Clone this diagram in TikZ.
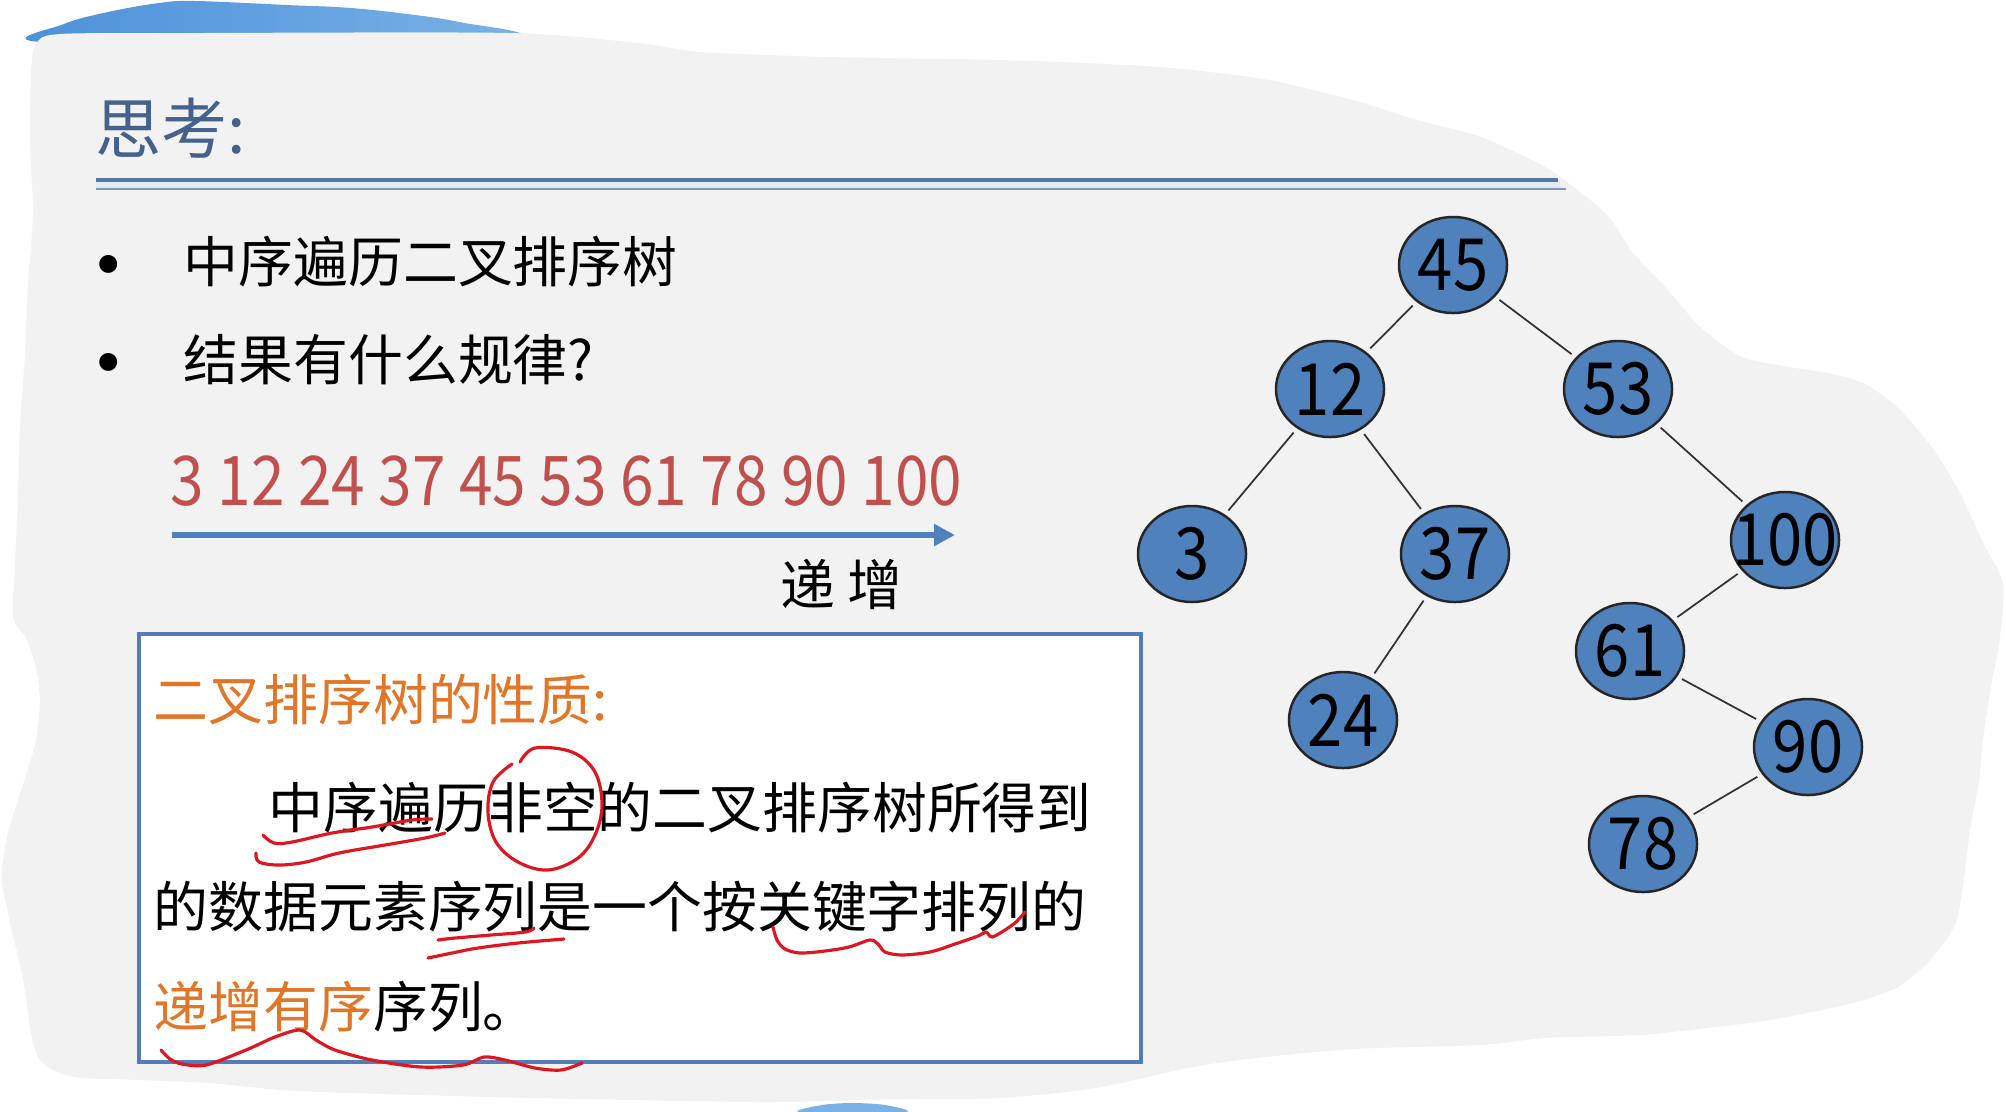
\documentclass[tikz,border=0pt]{standalone}
\usepackage{fontspec}
\setmainfont{Noto Sans CJK SC}
\newfontfamily\numfont[FakeStretch=0.88]{Noto Sans CJK SC}
\usepackage{xcolor}
\usepackage{tikz}
\usetikzlibrary{arrows.meta,positioning,shapes.geometric}

\definecolor{slidegray}{RGB}{242,242,242}
\definecolor{titleblue}{RGB}{68,98,140}
\definecolor{ruleblue}{RGB}{84,118,165}
\definecolor{rulegray}{RGB}{130,150,180}
\definecolor{ruleband}{RGB}{226,234,244}
\definecolor{nodeblue}{RGB}{79,129,189}
\definecolor{boxblue}{RGB}{84,124,182}
\definecolor{seqred}{RGB}{192,80,77}
\definecolor{proporange}{RGB}{226,118,40}
\definecolor{penred}{RGB}{222,22,32}
\definecolor{blobleft}{RGB}{74,144,217}
\definecolor{blobright}{RGB}{122,178,230}

\begin{document}
\begin{tikzpicture}[
  x=0.01cm, y=-0.01cm,
  txt/.style={anchor=west, inner sep=0pt, font=\fontsize{15.6}{18}\selectfont},
  bullet/.style={inner sep=0pt, font=\fontsize{24}{26}\selectfont},
  keynode/.style={ellipse, draw=black!85, line width=0.7pt, fill=nodeblue, minimum width=1.08cm, minimum height=0.96cm, inner sep=0pt, font=\numfont\fontsize{20.5}{24}\selectfont},
  link/.style={draw=black!80, line width=0.5pt, shorten <=1.5pt, shorten >=1.5pt},
  scribble/.style={draw=penred, line width=0.9pt, line cap=round, line join=round},
  incarrow/.style={-{Triangle[length=2.1mm,width=2.1mm]}, draw=nodeblue, line width=1.5pt}
]
\useasboundingbox (0,0) rectangle (2006,1111);
\fill[white] (0,0) rectangle (2006,1111);

% scanned slide background
\shade[left color=blobleft, right color=blobright] plot[smooth cycle, tension=0.6] coordinates {(40,42) (64,24) (108,12) (159,3) (195,1) (287,5) (351,8) (415,15) (459,22) (515,36) (300,42)};
\fill[blobright] plot[smooth cycle, tension=0.5] coordinates {(800,1112) (822,1105) (852,1103) (885,1105) (905,1112)};
\fill[slidegray] plot[smooth cycle, tension=0.45] coordinates {(36,44) (60,34) (200,33) (510,33) (638,43) (702,52) (829,57) (1000,60) (1128,65) (1192,70) (1269,80) (1353,100) (1417,120) (1481,137) (1545,167) (1580,192) (1609,217) (1632,252) (1667,289) (1700,327) (1740,356) (1783,366) (1833,374) (1867,385) (1900,410) (1933,449) (1960,493) (1983,543) (2003,583) (2000,637) (1990,692) (1982,747) (1979,780) (1970,830) (1963,885) (1955,925) (1930,960) (1898,987) (1853,1003) (1770,1020) (1706,1028) (1641,1035) (1545,1038) (1481,1045) (1353,1049) (1257,1058) (1192,1067) (1096,1088) (1000,1098) (912,1099) (772,1102) (632,1100) (491,1097) (351,1093) (281,1090) (210,1083) (140,1080) (75,1077) (45,1065) (33,1043) (23,979) (10,922) (2,879) (7,837) (20,794) (35,745) (40,702) (36,667) (26,638) (13,617) (15,567) (18,496) (20,426) (25,355) (28,284) (33,213) (30,142) (31,75)};

% title and rule
\node[txt, font=\fontsize{18.8}{22}\selectfont, text=titleblue] (title) at (95,128) {思考:};
\fill[ruleband] (96,180) rectangle (1560,189);
\draw[ruleblue, line width=0.9pt] (96,180) -- (1558,180);
\draw[rulegray, line width=0.6pt] (96,189) -- (1566,189);

% questions
\node[bullet] (dot1) at (109,276) {•};
\node[txt] (q1) at (183,262) {中序遍历二叉排序树};
\node[bullet] (dot2) at (109,374) {•};
\node[txt] (q2) at (183,360) {结果有什么规律?};

% inorder sequence
\node[txt, font=\numfont\fontsize{19.5}{22}\selectfont, text=seqred] (seq) at (170,481) {3 12 24 37 45 53 61 78 90 100};
\coordinate (incL) at (172,535);
\coordinate (incR) at (955,535);
\draw[incarrow] (incL) -- (incR);
\node[txt] (inc) at (780,584) {递 增};

% property box
\node[draw=boxblue, line width=1.2pt, fill=white, anchor=north west, minimum width=10.01cm, minimum height=4.28cm, inner sep=0pt] (prop) at (137,632) {};
\node[txt, text=proporange] (ptitle) at (153,700) {二叉排序树的性质:};
\node[txt] (line1) at (268,808) {中序遍历非空的二叉排序树所得到};
\node[txt] (line2) at (153,907) {的数据元素序列是一个按关键字排列的};
\node[txt] (line3) at (153,1007) {\textcolor{proporange}{递增有序}序列。};

% binary sort tree
\node[keynode] (n45) at (1453,265) {45};
\node[keynode] (n12) at (1330,389) {12};
\node[keynode] (n53) at (1618,389) {53};
\node[keynode] (n3) at (1192,554) {3};
\node[keynode] (n37) at (1455,554) {37};
\node[keynode] (n100) at (1785,540) {\makebox[0pt]{100}};
\node[keynode] (n24) at (1343,720) {24};
\node[keynode] (n61) at (1630,651) {61};
\node[keynode] (n90) at (1808,747) {90};
\node[keynode] (n78) at (1643,844) {78};
\draw[link] (n45) -- (n12);
\draw[link] (n45) -- (n53);
\draw[link] (n12) -- (n3);
\draw[link] (n12) -- (n37);
\draw[link] (n37) -- (n24);
\draw[link] (n53) -- (n100);
\draw[link] (n100) -- (n61);
\draw[link] (n61) -- (n90);
\draw[link] (n90) -- (n78);

% pen marks
\draw[scribble] plot[smooth, tension=0.6] coordinates {(263,835) (274,843) (292,842) (332,833) (372,827) (412,820) (432,819)};
\draw[scribble] plot[smooth, tension=0.6] coordinates {(256,853) (259,862) (279,865) (306,862) (339,853) (385,845) (425,838) (445,833)};
\draw[scribble] plot[smooth, tension=0.6] coordinates {(520,762) (535,748) (572,752) (595,772) (602,805) (595,835) (578,858) (548,870) (518,862) (496,842) (488,812) (493,782) (512,764)};
\draw[scribble] plot[smooth, tension=0.6] coordinates {(438,940) (455,938) (491,935) (525,932) (534,928)};
\draw[scribble] plot[smooth, tension=0.6] coordinates {(428,958) (452,953) (478,948) (518,943) (564,939)};
\draw[scribble] plot[smooth, tension=0.5] coordinates {(773,927) (777,940) (785,949) (800,953) (825,951) (849,947) (870,940) (878,944) (885,952) (902,955) (930,952) (955,944) (978,936) (986,932) (992,937) (1005,930) (1016,922) (1025,912)};
\draw[scribble] plot[smooth, tension=0.5] coordinates {(161,1050) (170,1059) (182,1064) (206,1065) (246,1050) (275,1037) (300,1030) (316,1040) (335,1050) (372,1060) (421,1067) (463,1065) (484,1057) (505,1060) (535,1068) (561,1070) (582,1063)};
\end{tikzpicture}
\end{document}
